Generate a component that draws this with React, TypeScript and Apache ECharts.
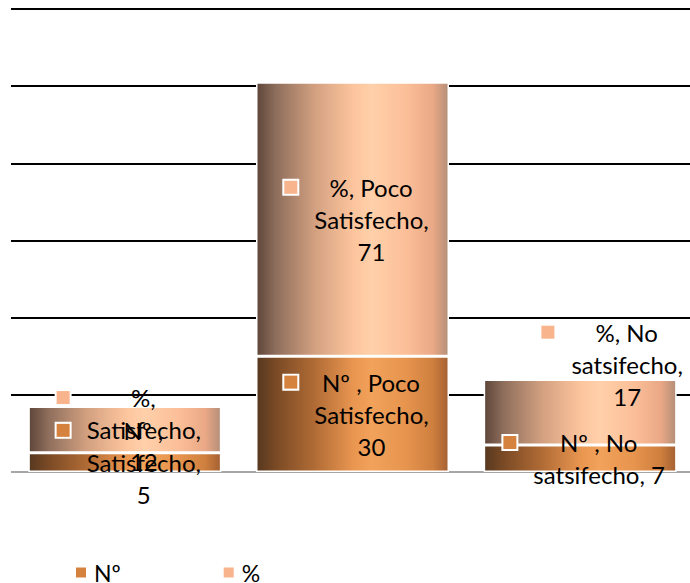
import React, { useEffect, useRef } from "react";
import * as echarts from "echarts";

// ---- data ----
const categories = ["Satisfecho", "Poco Satisfecho", "No satsifecho"];
const seriesNames = ["Nº ", "%"];
const countValues = [5, 30, 7];
const percentValues = [12, 71, 17];
const yTicks = [0, 20, 40, 60, 80, 100, 120];
const seriesValues = [countValues, percentValues];

// ---- style ----
const FONT = "Lato, 'Open Sans', sans-serif";
const FS = 24;
const LH = 32;
const keyColors = ["#D6823F", "#F8B48D"];
const gradients = [
  {
    type: "linear", x: 0, y: 0, x2: 1, y2: 0,
    colorStops: [
      { offset: 0, color: "#563820" },
      { offset: 0.1, color: "#7a4a25" },
      { offset: 0.3, color: "#b06b35" },
      { offset: 0.5, color: "#e89550" },
      { offset: 0.6, color: "#f2a25a" },
      { offset: 0.78, color: "#e6944e" },
      { offset: 0.92, color: "#cf7f3e" },
      { offset: 1, color: "#a46032" },
    ],
  },
  {
    type: "linear", x: 0, y: 0, x2: 1, y2: 0,
    colorStops: [
      { offset: 0, color: "#5e463a" },
      { offset: 0.1, color: "#8e6e5c" },
      { offset: 0.3, color: "#d2a080" },
      { offset: 0.5, color: "#fcc49c" },
      { offset: 0.6, color: "#ffd0aa" },
      { offset: 0.78, color: "#fbbf98" },
      { offset: 0.92, color: "#eaa886" },
      { offset: 1, color: "#b48e78" },
    ],
  },
];
const baseShift = [4, 0];
const extraShift: Record<string, number[]> = { "1-2": [28, -48] };

function measurer() {
  const c = document.createElement("canvas").getContext("2d")!;
  c.font = `${FS}px ${FONT}`;
  return (s: string) => c.measureText(s).width;
}

function wrap(text: string, maxW: number, m: (s: string) => number) {
  const words = text.split(" ");
  const lines: string[] = [];
  let cur = "";
  for (const w of words) {
    const test = cur ? cur + " " + w : w;
    if (cur && m(test) > maxW) {
      lines.push(cur);
      cur = w;
    } else cur = test;
  }
  if (cur) lines.push(cur);
  return lines;
}

export default function App() {
  const ref = useRef<HTMLDivElement>(null);
  useEffect(() => {
    if (!ref.current) return;
    const chart = echarts.init(ref.current, undefined, { renderer: "svg" });
    const m = measurer();
    const maxW = m("satsifecho, 7") + 1;
    const keys = ["n", "p"];
    const rich: any = {
      g: { width: 16, align: "left" },
      s: { width: 30, align: "left" },
      t: { fontSize: FS, lineHeight: LH, fontFamily: FONT, color: "#000", align: "center" },
    };
    keys.forEach((k, i) => {
      rich[k] = {
        width: 13, height: 13, backgroundColor: keyColors[i],
        borderColor: "#fff", borderWidth: 2, align: "left",
      };
    });
    const series = seriesNames.map((name, si) => ({
      name,
      type: "bar",
      stack: "total",
      barWidth: 193,
      data: seriesValues[si].map((v, ci) => {
        const ex = extraShift[`${si}-${ci}`] || [0, 0];
        return { value: v, label: { offset: [baseShift[0] + ex[0], baseShift[1] + ex[1]] } };
      }),
      itemStyle: { color: gradients[si], borderColor: "#fff", borderWidth: 1.5 },
      label: {
        show: true,
        position: "inside",
        align: "center",
        formatter: (p: any) => {
          const lines = wrap(`${p.seriesName}, ${p.name}, ${p.value}`, maxW, m);
          return lines
            .map((l, i) => (i === 0 ? `{${keys[si]}|}{g|}` : `{s|}`) + `{t|${l}}`)
            .join("\n");
        },
        rich,
      },
    }));
    chart.setOption({
      animation: false,
      backgroundColor: "#fff",
      grid: { left: 11, width: 683, top: 9, bottom: 111, outerBoundsMode: "none", containLabel: false },
      xAxis: {
        type: "category",
        data: categories,
        axisLine: { show: false },
        axisTick: { show: false },
        axisLabel: { show: false },
      },
      yAxis: {
        type: "value",
        min: yTicks[0],
        max: yTicks[yTicks.length - 1],
        interval: yTicks[1] - yTicks[0],
        axisLabel: { show: false },
        axisLine: { show: false },
        axisTick: { show: false },
        splitLine: {
          show: true,
          lineStyle: {
            width: 2.2,
            color: ["#a6a6a6", "#000", "#000", "#000", "#000", "#000", "#000"],
          },
        },
      },
      legend: {
        left: 69,
        top: 556,
        padding: [5, 5, 3, 5],
        itemWidth: 12,
        itemHeight: 12,
        itemGap: 95,
        icon: "rect",
        data: seriesNames.map((n, i) => ({ name: n, itemStyle: { color: keyColors[i] } })),
        textStyle: { fontSize: 23, fontFamily: FONT, color: "#000", lineHeight: 20, padding: [0, 0, 0, 2] },
      },
      series,
    } as any);
    return () => chart.dispose();
  }, []);
  return (
    <div
      ref={ref}
      style={{ position: "absolute", left: 0, top: 0, width: 690, height: 583 }}
    />
  );
}
